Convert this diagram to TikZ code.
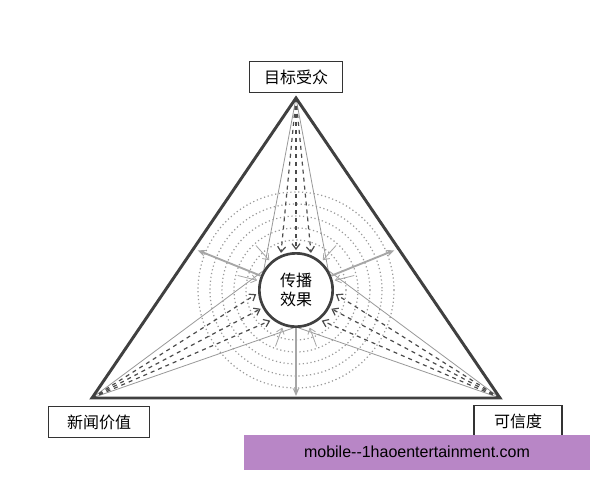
\documentclass[tikz,border=0pt]{standalone}
\usepackage{fontspec}
\newfontfamily\cjk{Noto Sans CJK SC}
\usetikzlibrary{calc,arrows.meta}
\definecolor{wm}{HTML}{B886C6}
\begin{document}
\begin{tikzpicture}[x=0.75pt,y=-0.75pt,
  lbl/.style={draw=black!80,thick,fill=white,font=\cjk\large,minimum width=70pt,minimum height=23pt,inner sep=2pt},
  thin/.style={gray!80,line width=0.6pt},
  dsh/.style={gray!60!black,dashed,line width=0.9pt,-{Straight Barb[length=4pt,width=6pt]}},
  outar/.style={gray!70,line width=1.4pt,-{Stealth[length=6pt,width=5pt]}},
  dot/.style={gray!80,dotted,line width=0.9pt}]
\useasboundingbox (0,0) rectangle (600,480);
\fill[white] (0,0) rectangle (600,480);
\coordinate (A) at (296,98);
\coordinate (L) at (92,398);
\coordinate (R) at (500,398);
\coordinate (C) at (296,290);
\foreach \rr in {50,62,74,86,98}{\draw[dot] (C) circle (\rr);}
\foreach \p/\d in {A/-90,L/152,R/28}{
  \draw[thin] (\p) -- ($(C)+(\d-62:37)$);
  \draw[thin] (\p) -- ($(C)+(\d+62:37)$);
  \foreach \o in {-22,0,22}{\draw[dsh] (\p) -- ($(C)+(\d+\o:40)$);}
  \foreach \o in {-42,42}{\draw[gray!70,line width=0.6pt,-{Straight Barb[length=4pt,width=6pt]}] ($(C)+(\d+\o:60)$) -- ($(C)+(\d+\o:40)$);}
}
\node[draw=black!75,line width=2pt,circle,minimum size=55pt,fill=white,font=\cjk\large,align=center,inner sep=0pt] (E) at (C) {传播\\效果};
\foreach \d in {-158,-22,90}{\draw[outar] ($(C)+(\d:38)$) -- ($(C)+(\d:106)$);}
\draw[black!75,line width=2.2pt,line join=miter] (A) -- (L) -- (R) -- cycle;
\node[lbl] (ta) at (296,77) {目标受众};
\node[lbl,minimum width=76pt] (nv) at (99,422) {新闻价值};
\node[lbl,minimum width=66pt] (kx) at (518,421) {可信度};
\fill[wm] (244,435) rectangle (590,470);
\node[font=\fontspec{Liberation Sans}\large] (w) at (417,452) {mobile-{}-1haoentertainment.com};
\end{tikzpicture}
\end{document}
